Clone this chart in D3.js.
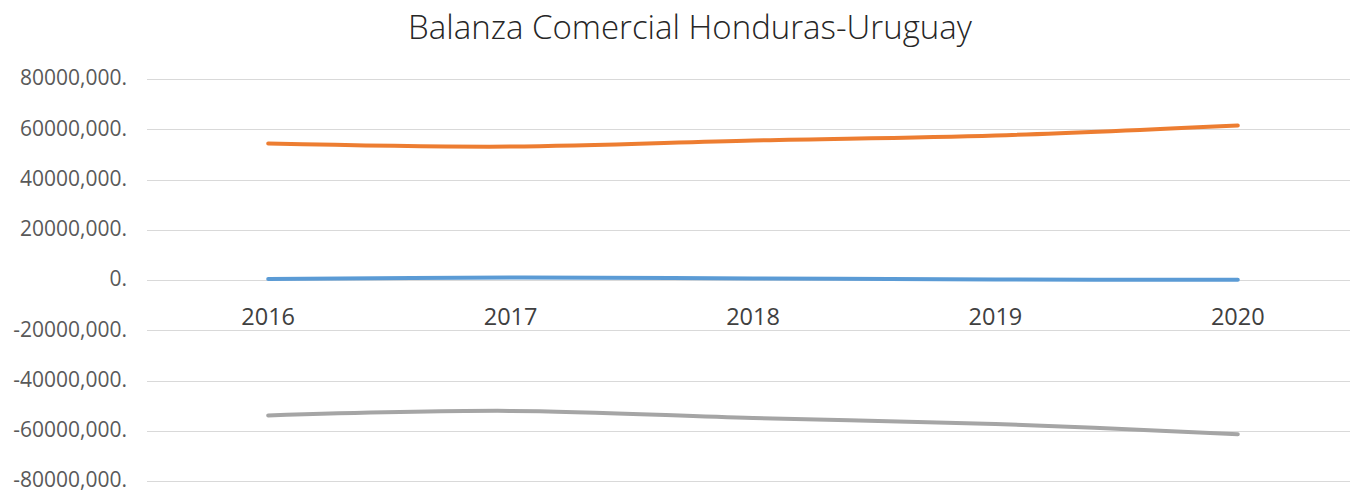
<!DOCTYPE html>
<html>
<head>
<meta charset="utf-8">
<script src="https://cdn.jsdelivr.net/npm/d3@7"></script>
<style>
  html,body{margin:0;padding:0;background:#fff;}
  svg{display:block;font-family:"Open Sans",sans-serif;}
</style>
</head>
<body>
<div id="chart"></div>
<script>
const years=["2016","2017","2018","2019","2020"];
const exportaciones=[400000,1000000,600000,200000,100000];
const importaciones=[54300000,53100000,55500000,57500000,61500000];
const balanza=[-53900000,-52100000,-54900000,-57300000,-61400000];
const yTicks=[80000000,60000000,40000000,20000000,0,-20000000,-40000000,-60000000,-80000000];

const series=[
  {name:"Exportaciones",values:exportaciones,color:"#5b9bd5"},
  {name:"Importaciones",values:importaciones,color:"#ed7d31"},
  {name:"Balanza",values:balanza,color:"#a5a5a5"}
];

const W=1350,H=490;
const svg=d3.select("#chart").append("svg").attr("width",W).attr("height",H);

const x=d3.scaleBand().domain(years).range([147,1359]);
const y=d3.scaleLinear().domain([-80000000,80000000]).range([481,79]);

// gridlines
svg.append("g").selectAll("line").data(yTicks).join("line")
  .attr("x1",147).attr("x2",1359)
  .attr("y1",d=>Math.round(y(d))+.5).attr("y2",d=>Math.round(y(d))+.5)
  .attr("stroke","#d9d9d9").attr("stroke-width",1);

// y tick labels like "80000,000."
const fmt=d=>d===0?"0.":(d<0?"-":"")+(Math.abs(d)/1000)+",000.";
svg.append("g").selectAll("text").data(yTicks).join("text")
  .attr("x",127).attr("y",d=>y(d))
  .attr("dy","0.3em")
  .attr("text-anchor","end")
  .attr("font-size",21)
  .attr("fill","#595959")
  .text(fmt);

// category labels sit under the zero line
svg.append("g").selectAll("text").data(years).join("text")
  .attr("x",d=>x(d)+x.bandwidth()/2)
  .attr("y",y(0)+45)
  .attr("text-anchor","middle")
  .attr("font-size",23.5)
  .attr("fill","#404040")
  .text(d=>d);

const line=d3.line()
  .x((d,i)=>x(years[i])+x.bandwidth()/2)
  .y(d=>y(d))
  .curve(d3.curveCatmullRom.alpha(0));

svg.append("g").selectAll("path").data(series).join("path")
  .attr("d",s=>line(s.values))
  .attr("fill","none")
  .attr("stroke",s=>s.color)
  .attr("stroke-width",4)
  .attr("stroke-linecap","round")
  .attr("stroke-linejoin","round");

svg.append("text")
  .attr("x",690).attr("y",39)
  .attr("text-anchor","middle")
  .attr("font-size",33)
  .attr("font-weight",300)
  .attr("fill","#262626")
  .text("Balanza Comercial Honduras-Uruguay");
</script>
</body>
</html>
